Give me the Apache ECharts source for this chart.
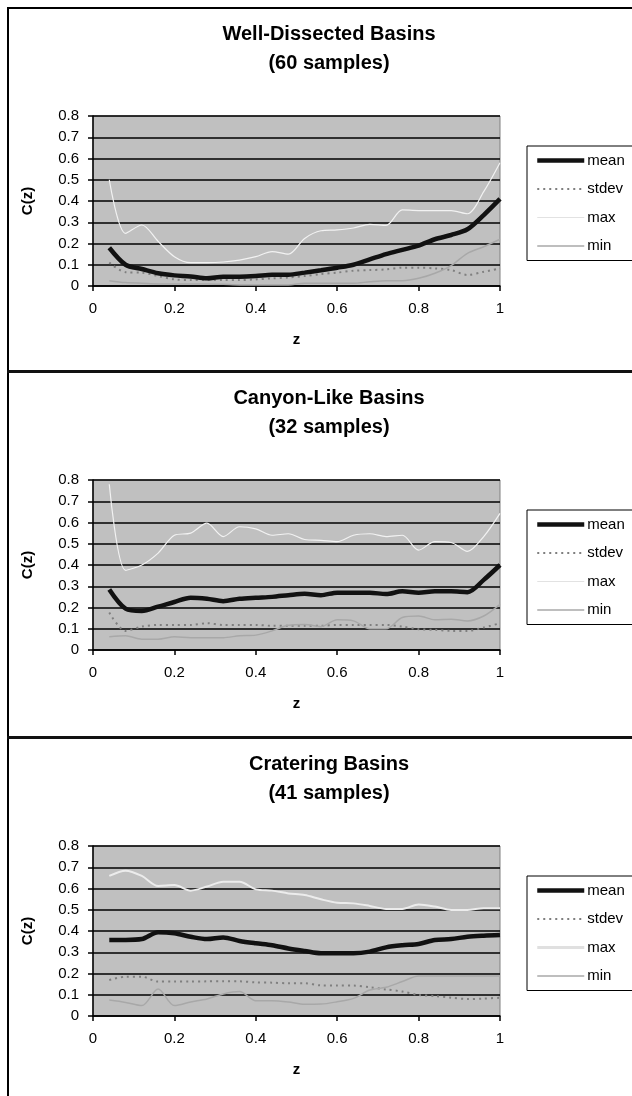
<!DOCTYPE html>
<html>
<head>
<meta charset="utf-8">
<script src="https://cdn.jsdelivr.net/npm/echarts@6/dist/echarts.min.js"></script>
<style>
html,body{margin:0;padding:0;background:#fff;}
#chart{width:632px;height:1096px;}
</style>
</head>
<body>
<div id="chart"></div>
<script>
// ---- data ----
const z = [0.04,0.08,0.12,0.16,0.20,0.24,0.28,0.32,0.36,0.40,0.44,0.48,0.52,0.56,0.60,0.64,0.68,0.72,0.76,0.80,0.84,0.88,0.92,0.96,1.00];

const titles = ["Well-Dissected Basins\n(60 samples)", "Canyon-Like Basins\n(32 samples)", "Cratering Basins\n(41 samples)"];
const seriesNames = ["mean", "stdev", "max", "min"];
const xTicks = ["0", "0.2", "0.4", "0.6", "0.8", "1"];

const p1Mean  = [0.18,0.10,0.08,0.06,0.05,0.045,0.036,0.044,0.044,0.047,0.053,0.053,0.063,0.074,0.086,0.10,0.125,0.15,0.17,0.19,0.22,0.24,0.267,0.334,0.41];
const p1Stdev = [0.11,0.065,0.063,0.047,0.031,0.028,0.028,0.028,0.028,0.031,0.036,0.04,0.047,0.056,0.063,0.072,0.075,0.078,0.086,0.086,0.083,0.075,0.052,0.067,0.083];
const p1Max   = [0.50,0.248,0.287,0.21,0.138,0.11,0.11,0.113,0.122,0.138,0.162,0.15,0.224,0.26,0.264,0.273,0.29,0.285,0.358,0.355,0.355,0.355,0.34,0.444,0.58];
const p1Min   = [0.025,0.016,0.013,0.01,0.01,0.01,0.01,0.008,0.005,0.005,0.005,0.005,0.013,0.013,0.013,0.013,0.02,0.025,0.025,0.036,0.06,0.096,0.154,0.185,0.22];

const p2Mean  = [0.285,0.195,0.184,0.204,0.226,0.246,0.241,0.23,0.241,0.246,0.25,0.258,0.265,0.258,0.27,0.27,0.27,0.263,0.276,0.27,0.276,0.276,0.272,0.33,0.40];
const p2Stdev = [0.176,0.09,0.11,0.118,0.118,0.118,0.126,0.118,0.118,0.118,0.114,0.114,0.114,0.114,0.118,0.118,0.118,0.118,0.11,0.098,0.095,0.09,0.09,0.106,0.126];
const p2Max   = [0.78,0.375,0.40,0.456,0.54,0.55,0.597,0.534,0.58,0.57,0.54,0.547,0.52,0.516,0.51,0.54,0.547,0.534,0.54,0.47,0.51,0.506,0.464,0.534,0.643];
const p2Min   = [0.062,0.067,0.051,0.051,0.062,0.058,0.058,0.058,0.067,0.07,0.09,0.117,0.12,0.11,0.142,0.137,0.10,0.10,0.153,0.16,0.142,0.145,0.137,0.16,0.215];

const p3Mean  = [0.358,0.358,0.362,0.394,0.389,0.373,0.362,0.37,0.353,0.342,0.333,0.318,0.306,0.295,0.295,0.295,0.303,0.323,0.333,0.339,0.358,0.362,0.373,0.378,0.381];
const p3Stdev = [0.169,0.185,0.185,0.162,0.162,0.162,0.163,0.163,0.163,0.158,0.157,0.154,0.154,0.144,0.143,0.143,0.135,0.125,0.115,0.099,0.094,0.086,0.08,0.082,0.086];
const p3Max   = [0.659,0.684,0.659,0.612,0.616,0.59,0.609,0.632,0.632,0.596,0.59,0.577,0.569,0.549,0.533,0.53,0.518,0.504,0.504,0.525,0.515,0.499,0.499,0.507,0.507];
const p3Min   = [0.075,0.064,0.049,0.127,0.049,0.066,0.08,0.104,0.115,0.072,0.072,0.066,0.055,0.056,0.067,0.083,0.122,0.135,0.162,0.188,0.188,0.188,0.188,0.188,0.188];

const panels = [
  [p1Mean, p1Stdev, p1Max, p1Min],
  [p2Mean, p2Stdev, p2Max, p2Min],
  [p3Mean, p3Stdev, p3Max, p3Min]
];

// ---- layout / style ----
const FONT = "Liberation Sans, Arial, sans-serif";
const gridTops = [116, 480, 846];
const GRID_LEFT = 93, GRID_W = 407, GRID_H = 170;

const lineStyles = [
  [{color:'#111', width:4.5}, {color:'#7f7f7f', width:2, type:[2,4]}, {color:'#f2f2f2', width:1.2}, {color:'#a8a8a8', width:1.5}],
  [{color:'#111', width:4.5}, {color:'#7f7f7f', width:2, type:[2,4]}, {color:'#f2f2f2', width:1.2}, {color:'#a8a8a8', width:1.5}],
  [{color:'#111', width:4.5}, {color:'#7f7f7f', width:2, type:[2,4]}, {color:'#ececec', width:2}, {color:'#a8a8a8', width:1.5}]
];
// legend samples (on white the pale "max" line is drawn a touch darker, as in the reference)
const legendStyles = [
  [{color:'#111', width:4.5}, {color:'#7f7f7f', width:2, type:[2,4]}, {color:'#e2e2e2', width:1.2}, {color:'#a8a8a8', width:1.5}],
  [{color:'#111', width:4.5}, {color:'#7f7f7f', width:2, type:[2,4]}, {color:'#e2e2e2', width:1.2}, {color:'#a8a8a8', width:1.5}],
  [{color:'#111', width:4.5}, {color:'#7f7f7f', width:2, type:[2,4]}, {color:'#e0e0e0', width:3}, {color:'#a8a8a8', width:1.5}]
];

const chart = echarts.init(document.getElementById('chart'), null, {renderer:'canvas', width:632, height:1096});

const option = {
  animation: false,
  backgroundColor: '#ffffff',
  title: [], grid: [], xAxis: [], yAxis: [], legend: [], series: [],
  graphic: [
    {type:'rect', shape:{x:7, y:7, width:2, height:1089}, style:{fill:'#000'}, z:100},
    {type:'rect', shape:{x:7, y:7, width:625, height:2}, style:{fill:'#000'}, z:100},
    {type:'rect', shape:{x:7, y:370, width:625, height:3}, style:{fill:'#111'}, z:100},
    {type:'rect', shape:{x:7, y:736, width:625, height:3}, style:{fill:'#111'}, z:100}
  ]
};

panels.forEach((data, i) => {
  const top = gridTops[i];
  option.title.push({
    text: titles[i],
    left: 324, top: top - 101, textAlign: 'center',
    textStyle: {fontFamily: FONT, fontSize: 20, fontWeight: 'bold', color: '#000', lineHeight: 29}
  });
  option.grid.push({
    left: GRID_LEFT, top: top, width: GRID_W, height: GRID_H,
    show: true, backgroundColor: '#c0c0c0', borderColor: '#808080', borderWidth: 1
  });
  option.xAxis.push({
    type: 'value', gridIndex: i, min: 0, max: 1, interval: 0.2,
    name: 'z', nameLocation: 'middle', nameGap: 46,
    nameTextStyle: {fontFamily: FONT, fontSize: 15, fontWeight: 'bold', color: '#000'},
    axisLine: {show: true, onZero: false, lineStyle: {color: '#000', width: 1.5}},
    axisTick: {show: true, inside: false, length: 5, lineStyle: {color: '#000', width: 1.5}},
    axisLabel: {fontFamily: FONT, fontSize: 15, color: '#000', margin: 15,
      formatter: v => xTicks[Math.round(v / 0.2)]},
    splitLine: {show: false}
  });
  option.yAxis.push({
    type: 'value', gridIndex: i, min: 0, max: 0.8, interval: 0.1,
    name: 'C(z)', nameLocation: 'middle', nameGap: 58, nameRotate: 90,
    nameTextStyle: {fontFamily: FONT, fontSize: 15, fontWeight: 'bold', color: '#000'},
    axisLine: {show: true, onZero: false, lineStyle: {color: '#000', width: 1.5}},
    axisTick: {show: true, inside: false, length: 5, lineStyle: {color: '#000', width: 1.5}},
    axisLabel: {fontFamily: FONT, fontSize: 15, color: '#000', margin: 14},
    splitLine: {show: true, lineStyle: {color: '#000', width: 1.5}}
  });
  const names = seriesNames.map(n => n + '_' + (i + 1));
  option.legend.push({
    data: names.map((n, k) => ({name: n, lineStyle: {
      width: legendStyles[i][k].width, color: legendStyles[i][k].color,
      type: legendStyles[i][k].type || 'solid'}})),
    orient: 'vertical', left: 527, top: top + 30,
    padding: [7, 40, 7, 8],
    itemWidth: 47, itemHeight: 14, itemGap: 13.5,
    backgroundColor: '#fff', borderColor: '#000', borderWidth: 1, borderRadius: 0,
    selectedMode: false,
    lineStyle: {width: 'inherit'},
    itemStyle: {opacity: 0, color: 'rgba(0,0,0,0)', borderWidth: 0},
    formatter: n => n.split('_')[0],
    textStyle: {fontFamily: FONT, fontSize: 15, color: '#000', padding: [0, 0, 0, -2]}
  });
  data.forEach((vals, k) => {
    option.series.push({
      name: names[k], type: 'line',
      xAxisIndex: i, yAxisIndex: i,
      data: z.map((x, j) => [x, vals[j]]),
      showSymbol: false, symbol: 'none',
      smooth: 0.3,
      lineStyle: lineStyles[i][k],
      itemStyle: {color: lineStyles[i][k].color},
      z: k === 0 ? 3 : 2
    });
  });
});

chart.setOption(option);
</script>
</body>
</html>
